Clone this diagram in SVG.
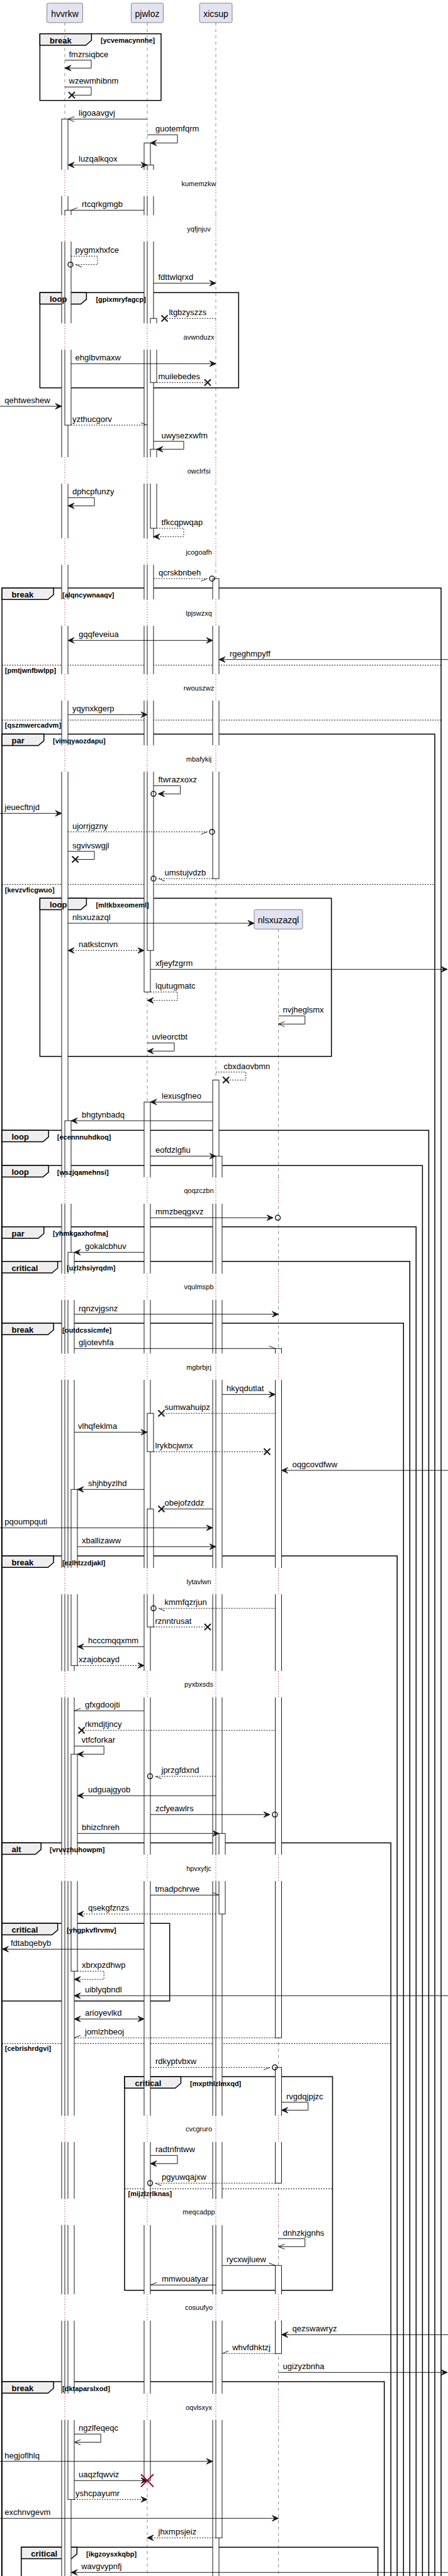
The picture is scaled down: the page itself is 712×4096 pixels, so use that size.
<svg xmlns="http://www.w3.org/2000/svg" xmlns:xlink="http://www.w3.org/1999/xlink" width="712" height="4096" viewBox="0 0 712 4096">
<defs>
<style>
text{font-family:"Liberation Sans",Arial,sans-serif;font-size:13px;fill:#000}
.pt{font-size:14px;text-anchor:middle}
.dt{font-size:11px;text-anchor:middle}
.gl{font-weight:bold;font-size:13px}
.gc{font-weight:bold;font-size:11px}
.box{fill:#E2E2F0;stroke:#181818;stroke-width:0.5}
.ll{stroke:#181818;stroke-width:0.5;stroke-dasharray:5,5;fill:none}
.act{fill:#fff;stroke:#181818;stroke-width:1}
.fr{fill:none;stroke:#000;stroke-width:1.5}
.tab{fill:#EEEEEE;stroke:#000;stroke-width:1.5}
.sep{stroke:#000;stroke-width:1;stroke-dasharray:2,2;fill:none}
.m{stroke:#181818;stroke-width:1;fill:none}
.md{stroke:#181818;stroke-width:1;fill:none;stroke-dasharray:2,2}
.oc{fill:none;stroke:#181818;stroke-width:1.5}
.wo{fill:#fff;stroke:none}
.dl{stroke:#A80036;stroke-width:1;stroke-dasharray:1,3;fill:none}
</style>
<marker id="af" markerUnits="userSpaceOnUse" markerWidth="14" markerHeight="14" refX="10" refY="5" orient="auto-start-reverse" overflow="visible"><path d="M0,0.5L10,5L0,9.5L4,5Z" fill="#181818" stroke="#181818" stroke-width="1"/></marker>
<marker id="ao" markerUnits="userSpaceOnUse" markerWidth="14" markerHeight="14" refX="10" refY="5" orient="auto" overflow="visible"><path d="M0,1L10,5L0,9" fill="none" stroke="#181818" stroke-width="1"/></marker>
<marker id="ahu" markerUnits="userSpaceOnUse" markerWidth="14" markerHeight="14" refX="10" refY="5" orient="auto" overflow="visible"><path d="M0,1L10,5" fill="none" stroke="#181818" stroke-width="1"/></marker>
<marker id="ahd" markerUnits="userSpaceOnUse" markerWidth="14" markerHeight="14" refX="10" refY="5" orient="auto" overflow="visible"><path d="M0,9L10,5" fill="none" stroke="#181818" stroke-width="1"/></marker>
<path id="xx" d="M-5,-5L5,5M-5,5L5,-5" stroke="#181818" stroke-width="2" fill="none"/>
</defs>
<rect x="0" y="0" width="712" height="4096" fill="#fff"/>

<g id="frames">
<g id="f1"><rect class="fr" x="63.4" y="53.7" width="192.6" height="106"/><path class="tab" d="M63.4,53.7H145.4V64.2L136.4,72H63.4Z"/></g>
<g id="f2"><rect class="fr" x="63.4" y="465.3" width="315.9" height="151.4"/><path class="tab" d="M63.4,465.3H137.4V475.8L128.4,483.6H63.4Z"/></g>
<g id="f3"><rect class="fr" x="3.2" y="935" width="697.8" height="3200"/><path class="tab" d="M3.2,935H85.2V945.5L76.2,953.3H3.2Z"/><path class="sep" d="M3.2,1057.7H701M3.2,1145H701"/></g>
<g id="f4"><rect class="fr" x="3.2" y="1167.3" width="687.8" height="3000"/><path class="tab" d="M3.2,1167.3H69.8V1177.8L60.8,1185.6H3.2Z"/><path class="sep" d="M3.2,1406.3H691"/></g>
<g id="f5"><rect class="fr" x="63.4" y="1428.3" width="463.3" height="251.4"/><path class="tab" d="M63.4,1428.3H137.4V1438.8L128.4,1446.6H63.4Z"/></g>
<g id="f6"><rect class="fr" x="3.2" y="1797.3" width="678.2" height="2400"/><path class="tab" d="M3.2,1797.3H77.2V1807.8L68.2,1815.6H3.2Z"/></g>
<g id="f7"><rect class="fr" x="3.2" y="1853.3" width="668.2" height="2400"/><path class="tab" d="M3.2,1853.3H77.2V1863.8L68.2,1871.6H3.2Z"/></g>
<g id="f8"><rect class="fr" x="3.2" y="1950.7" width="658.1" height="2300"/><path class="tab" d="M3.2,1950.7H69.8V1961.2L60.8,1969H3.2Z"/></g>
<g id="f9"><rect class="fr" x="3.2" y="2005.7" width="648.1" height="2200"/><path class="tab" d="M3.2,2005.7H91.7V2016.2L82.7,2024H3.2Z"/></g>
<g id="f10"><rect class="fr" x="3.2" y="2104" width="638.1" height="2100"/><path class="tab" d="M3.2,2104H85.2V2114.5L76.2,2122.3H3.2Z"/></g>
<g id="f11"><rect class="fr" x="3.2" y="2474" width="628" height="1700"/><path class="tab" d="M3.2,2474H85.2V2484.5L76.2,2492.3H3.2Z"/></g>
<g id="f12"><rect class="fr" x="3.2" y="2930.3" width="618" height="1300"/><path class="tab" d="M3.2,2930.3H65.2V2940.8L56.2,2948.6H3.2Z"/><path class="sep" d="M3.2,3249.3H621.2"/></g>
<g id="f13"><rect class="fr" x="3.2" y="3058.3" width="266.5" height="123.4"/><path class="tab" d="M3.2,3058.3H91.7V3068.8L82.7,3076.6H3.2Z"/></g>
<g id="f14"><rect class="fr" x="198" y="3302" width="330.5" height="339.7"/><path class="tab" d="M198,3302H287.5V3312.5L278.5,3320.3H198Z"/><path class="sep" d="M198,3480.3H528.5"/></g>
<g id="f15"><rect class="fr" x="3.2" y="3787" width="607.5" height="400"/><path class="tab" d="M3.2,3787H85.2V3797.5L76.2,3805.3H3.2Z"/></g>
<g id="f16"><rect class="fr" x="33.8" y="4050.3" width="566.8" height="200"/><path class="tab" d="M33.8,4050.3H122.3V4060.8L113.3,4068.6H33.8Z"/></g>
</g>

<g id="lifelines">
<path class="ll" d="M103,36V4096M234,36V4096M343,36V4096M442.5,1477.3V4096"/>
</g>

<g id="hvvrkw"><rect class="box" x="74.5" y="5" width="57" height="31" rx="2.5"/><text class="pt" x="103" y="27">hvvrkw</text></g>
<g id="pjwloz"><rect class="box" x="208.5" y="5" width="51" height="31" rx="2.5"/><text class="pt" x="234" y="27">pjwloz</text></g>
<g id="xicsup"><rect class="box" x="317" y="5" width="52" height="31" rx="2.5"/><text class="pt" x="343" y="27">xicsup</text></g>
<g id="nlsxuzazql"><rect class="box" x="404" y="1446.3" width="77" height="31" rx="2.5"/><text class="pt" x="442.5" y="1468.3">nlsxuzazql</text></g>

<g id="activations">
<rect class="act" x="98" y="189.3" width="10" height="3920"/>
<rect class="act" x="103" y="334.3" width="10" height="341.7"/>
<rect class="act" x="103" y="1782" width="10" height="2330"/>
<rect class="act" x="108" y="1991.3" width="10" height="1983"/>
<rect class="act" x="113" y="2368.3" width="10" height="280"/>
<rect class="act" x="113" y="2789.3" width="10" height="345"/>
<rect class="act" x="229" y="227.3" width="10" height="1350"/>
<rect class="act" x="234" y="262.3" width="10" height="1249"/>
<rect class="act" x="239" y="506.3" width="10" height="102"/>
<rect class="act" x="239" y="714.3" width="10" height="125.7"/>
<rect class="act" x="229" y="1752.3" width="10" height="2192"/>
<rect class="act" x="234" y="2247.3" width="10" height="61"/>
<rect class="act" x="234" y="2399.3" width="10" height="187.7"/>
<rect class="act" x="338" y="920" width="10" height="477"/>
<rect class="act" x="338" y="1717.3" width="10" height="2400"/>
<rect class="act" x="343" y="1838.3" width="10" height="2197"/>
<rect class="act" x="348" y="2915.3" width="10" height="128"/>
<rect class="act" x="437.5" y="2144.3" width="10" height="1096"/>
<rect class="act" x="437.5" y="3287.3" width="10" height="184"/>
<rect class="act" x="437.5" y="3602.3" width="10" height="140"/>
</g>

<g id="delays">
<path class="wo" d="M96.5,270h28v42h-28zM228,270h23v42h-23zM337,270h23v42h-23z
M96.5,342h28v42h-28zM228,342h23v42h-23zM337,342h23v42h-23z
M96.5,514h28v42h-28zM228,514h23v42h-23zM337,514h23v42h-23z
M96.5,727h28v42h-28zM228,727h23v42h-23zM337,727h23v42h-23z
M96.5,856h28v42h-28zM228,856h23v42h-23zM337,856h23v42h-23z
M96.5,953h28v42h-28zM228,953h23v42h-23zM337,953h23v42h-23z
M96.5,1072h28v42h-28zM228,1072h23v42h-23zM337,1072h23v42h-23z
M96.5,1185h28v42h-28zM228,1185h23v42h-23zM337,1185h23v42h-23z
M96.5,1872h28v42h-28zM228,1872h23v42h-23zM337,1872h23v42h-23zM436,1872h14v42h-14z
M96.5,2025h28v42h-28zM228,2025h23v42h-23zM337,2025h23v42h-23zM436,2025h14v42h-14z
M96.5,2152h28v42h-28zM228,2152h23v42h-23zM337,2152h23v42h-23zM436,2152h14v42h-14z
M96.5,2493h28v42h-28zM228,2493h23v42h-23zM337,2493h23v42h-23zM436,2493h14v42h-14z
M96.5,2657h28v42h-28zM228,2657h23v42h-23zM337,2657h23v42h-23zM436,2657h14v42h-14z
M96.5,2949h28v42h-28zM228,2949h23v42h-23zM337,2949h23v42h-23zM436,2949h14v42h-14z
M96.5,3364h28v42h-28zM228,3364h23v42h-23zM337,3364h23v42h-23zM436,3364h14v42h-14z
M96.5,3496h28v42h-28zM228,3496h23v42h-23zM337,3496h23v42h-23zM436,3496h14v42h-14z
M96.5,3648h28v42h-28zM228,3648h23v42h-23zM337,3648h23v42h-23zM436,3648h14v42h-14z
M96.5,3806h28v42h-28zM228,3806h23v42h-23zM337,3806h23v42h-23zM436,3806h14v42h-14z"/>
<path class="dl" d="M103,270v42M234,270v42M343,270v42
M103,342v42M234,342v42M343,342v42
M103,514v42M234,514v42M343,514v42
M103,727v42M234,727v42M343,727v42
M103,856v42M234,856v42M343,856v42
M103,953v42M234,953v42M343,953v42
M103,1072v42M234,1072v42M343,1072v42
M103,1185v42M234,1185v42M343,1185v42
M103,1872v42M234,1872v42M343,1872v42M442.5,1872v42
M103,2025v42M234,2025v42M343,2025v42M442.5,2025v42
M103,2152v42M234,2152v42M343,2152v42M442.5,2152v42
M103,2493v42M234,2493v42M343,2493v42M442.5,2493v42
M103,2657v42M234,2657v42M343,2657v42M442.5,2657v42
M103,2949v42M234,2949v42M343,2949v42M442.5,2949v42
M103,3364v42M234,3364v42M343,3364v42M442.5,3364v42
M103,3496v42M234,3496v42M343,3496v42M442.5,3496v42
M103,3648v42M234,3648v42M343,3648v42M442.5,3648v42
M103,3806v42M234,3806v42M343,3806v42M442.5,3806v42"/>
<text class="dt" x="316" y="296">kumemzkw</text>
<text class="dt" x="316" y="368">yqfjnjuv</text>
<text class="dt" x="316" y="540">avwnduzx</text>
<text class="dt" x="316" y="753">owclrfsi</text>
<text class="dt" x="316" y="882">jcogoafh</text>
<text class="dt" x="316" y="979">lpjswzxq</text>
<text class="dt" x="316" y="1098">rwouszwz</text>
<text class="dt" x="316" y="1211">mbafykij</text>
<text class="dt" x="316" y="1897">qoqzczbn</text>
<text class="dt" x="316" y="2050">vqulmspb</text>
<text class="dt" x="316" y="2178">mgbrbjrj</text>
<text class="dt" x="316" y="2519">lytavlwn</text>
<text class="dt" x="316" y="2682">pyxbxsds</text>
<text class="dt" x="316" y="2975">hpvxyfjc</text>
<text class="dt" x="316" y="3389">cvcgruro</text>
<text class="dt" x="316" y="3521">meqcadpp</text>
<text class="dt" x="316" y="3673">cosuufyo</text>
<text class="dt" x="316" y="3832">oqvlsxyx</text>
</g>

<g id="frame-labels">
<text class="gl" x="79" y="68.7">break</text><text class="gc" x="160" y="68.2">[ycvemacynnhe]</text>
<text class="gl" x="79" y="480.3">loop</text><text class="gc" x="152.4" y="479.8">[gpixmryfagcp]</text>
<text class="gl" x="18.5" y="950">break</text><text class="gc" x="99" y="949.5">[alqncywnaaqv]</text>
<text class="gc" x="7.8" y="1069.7">[pmtjwnfbwlpp]</text>
<text class="gc" x="7.8" y="1157.3">[qszmwercadvm]</text>
<text class="gl" x="18.5" y="1182.3">par</text><text class="gc" x="84" y="1181.8">[vimqyaozdapu]</text>
<text class="gc" x="7.8" y="1418.7">[kevzvficgwuo]</text>
<text class="gl" x="79" y="1443.3">loop</text><text class="gc" x="152.4" y="1442.8">[mltkbxeomeml]</text>
<text class="gl" x="18.5" y="1812.3">loop</text><text class="gc" x="90.8" y="1811.8">[ecennnuhdkoq]</text>
<text class="gl" x="18.5" y="1868.3">loop</text><text class="gc" x="90.8" y="1867.8">[wszjqamehnsi]</text>
<text class="gl" x="18.5" y="1965.7">par</text><text class="gc" x="84" y="1965.2">[yhmkgaxhofma]</text>
<text class="gl" x="18.5" y="2020.7">critical</text><text class="gc" x="105.9" y="2020.2">[uzlzhsiyrqdm]</text>
<text class="gl" x="18.5" y="2119">break</text><text class="gc" x="99" y="2118.5">[outdcssicmfe]</text>
<text class="gl" x="18.5" y="2489">break</text><text class="gc" x="99" y="2488.5">[ezlhtzzdjakl]</text>
<text class="gl" x="18.5" y="2945.3">alt</text><text class="gc" x="79" y="2944.8">[vrvvzhuhowpm]</text>
<text class="gc" x="7.8" y="3261.3">[cebrishrdgvi]</text>
<text class="gl" x="18.5" y="3073.3">critical</text><text class="gc" x="105.9" y="3072.8">[yhgpkvflrvmv]</text>
<text class="gl" x="214.5" y="3317">critical</text><text class="gc" x="302" y="3316.5">[mxpthlzlmxqd]</text>
<text class="gc" x="203.6" y="3492.3">[mijzlzrlknas]</text>
<text class="gl" x="18.5" y="3802">break</text><text class="gc" x="99" y="3801.5">[dktaparslxod]</text>
<text class="gl" x="49.3" y="4065.3">critical</text><text class="gc" x="137" y="4064.8">[ikgzoysxkqbp]</text>
</g>

<g id="connectors">
<path class="m" d="M103,95.7H145V108.3H103" marker-end="url(#af)"/>
<path class="m" d="M103,138.3H145V151.3H114"/><use xlink:href="#xx" x="114" y="151.3"/>
<path class="m" d="M234,189.3H108" marker-end="url(#ao)"/>
<path class="m" d="M234,214.3H282V227.3H239" marker-end="url(#af)"/>
<path class="m" d="M108,262.3H234" marker-start="url(#af)" marker-end="url(#af)"/>
<path class="m" d="M229,334.3H113" marker-end="url(#ahd)"/>
<path class="md" d="M113,407.3H155V420.7H120" marker-end="url(#ahu)"/><circle class="oc" cx="112" cy="420.7" r="4"/>
<path class="m" d="M244,450.3H343" marker-end="url(#af)"/>
<path class="md" d="M343,506.3H261.5"/><use xlink:href="#xx" x="261.5" y="506.3"/>
<path class="m" d="M113,578.3H343" marker-end="url(#af)"/>
<path class="md" d="M249,608.3H330"/><use xlink:href="#xx" x="330" y="608.3"/>
<path class="m" d="M0,646H98" marker-end="url(#af)"/>
<path class="md" d="M113,676H234" marker-end="url(#ahu)"/>
<path class="m" d="M244,701.7H292V714.3H249" marker-end="url(#af)"/>
<path class="m" d="M108,791.3H150V804.3H108" marker-end="url(#af)"/>
<path class="md" d="M249,840H292V853.3H244" marker-end="url(#af)"/>
<path class="md" d="M244,920H329.5" marker-end="url(#ahd)"/><circle class="oc" cx="337" cy="920" r="4"/>
<path class="m" d="M108,1018.3H338" marker-start="url(#af)" marker-end="url(#af)"/>
<path class="m" d="M712,1048.7H348" marker-end="url(#af)"/>
<path class="m" d="M108,1136.3H234" marker-end="url(#af)"/>
<path class="m" d="M244,1249.3H286.6V1262.3H251.5" marker-end="url(#af)"/><circle class="oc" cx="244" cy="1262.3" r="4"/>
<path class="m" d="M0,1293.3H98" marker-end="url(#af)"/>
<path class="md" d="M108,1322.7H329.5" marker-end="url(#ahd)"/><circle class="oc" cx="337" cy="1322.7" r="4"/>
<path class="m" d="M108,1353.7H150V1366.5H119.6"/><use xlink:href="#xx" x="119.6" y="1366.5"/>
<path class="md" d="M338,1397H252" marker-end="url(#ahu)"/><circle class="oc" cx="244" cy="1397" r="4"/>
<path class="m" d="M108,1468H404" marker-end="url(#af)"/>
<path class="md" d="M108,1511.3H229" marker-start="url(#af)" marker-end="url(#af)"/>
<path class="m" d="M239,1541.3H711" marker-end="url(#af)"/>
<path class="md" d="M239,1577.3H282V1590.7H234" marker-end="url(#af)"/>
<path class="m" d="M442.5,1615.3H484.7V1628.3H442.5" marker-end="url(#ao)"/>
<path class="m" d="M234,1658.3H277V1671.3H234" marker-end="url(#af)"/>
<path class="md" d="M343,1704.7H390.7V1717.3H359.2"/><use xlink:href="#xx" x="359.2" y="1717.3"/>
<path class="m" d="M338,1752.3H239" marker-end="url(#af)"/>
<path class="m" d="M338,1782H113" marker-end="url(#af)"/>
<path class="m" d="M239,1838.3H343" marker-end="url(#af)"/>
<path class="m" d="M239,1936.3H434" marker-end="url(#af)"/><circle class="oc" cx="441.5" cy="1936.3" r="4"/>
<path class="m" d="M229,1991.3H118" marker-end="url(#af)"/>
<path class="m" d="M118,2089.7H442.5" marker-end="url(#af)"/>
<path class="m" d="M118,2144.3H437.5" marker-end="url(#ahu)"/>
<path class="m" d="M353,2217.3H437.5" marker-end="url(#af)"/>
<path class="md" d="M437.5,2247.3H256.5"/><use xlink:href="#xx" x="256.5" y="2247.3"/>
<path class="m" d="M118,2277.3H234" marker-end="url(#af)"/>
<path class="md" d="M244,2308.3H424.5"/><use xlink:href="#xx" x="424.5" y="2308.3"/>
<path class="m" d="M712,2338H447.5" marker-end="url(#af)"/>
<path class="m" d="M229,2368.3H123" marker-end="url(#af)"/>
<path class="m" d="M338,2399.3H256.5"/><use xlink:href="#xx" x="256.5" y="2399.3"/>
<path class="m" d="M0,2429.3H338" marker-end="url(#af)"/>
<path class="m" d="M123,2459.3H343" marker-end="url(#af)"/>
<path class="md" d="M437.5,2557.3H252" marker-end="url(#ahu)"/><circle class="oc" cx="244" cy="2557.3" r="4"/>
<path class="md" d="M244,2587H330"/><use xlink:href="#xx" x="330" y="2587"/>
<path class="m" d="M229,2618.3H123" marker-end="url(#af)"/>
<path class="md" d="M123,2648.3H229" marker-end="url(#af)"/>
<path class="m" d="M229,2720.3H118" marker-end="url(#ahd)"/>
<path class="md" d="M437.5,2751.3H129.6"/><use xlink:href="#xx" x="129.6" y="2751.3"/>
<path class="m" d="M118,2776.3H165.2V2789.3H123" marker-end="url(#af)"/>
<path class="md" d="M343,2824.3H246.5" marker-end="url(#ahu)"/><circle class="oc" cx="238.5" cy="2824.3" r="4"/>
<path class="m" d="M343,2855.3H123" marker-end="url(#af)"/>
<path class="m" d="M239,2885.3H429" marker-end="url(#af)"/><circle class="oc" cx="436.8" cy="2885.3" r="4"/>
<path class="m" d="M123,2915.3H348" marker-end="url(#af)"/>
<path class="m" d="M239,3013.3H348" marker-end="url(#ahu)"/>
<path class="md" d="M343,3043.3H123" marker-end="url(#af)"/>
<path class="m" d="M229,3099.3H3.5" marker-end="url(#af)"/>
<path class="md" d="M123,3134.3H165.2V3147.3H118" marker-end="url(#af)"/>
<path class="m" d="M712,3173.3H118" marker-end="url(#af)"/>
<path class="m" d="M118,3210.3H229" marker-start="url(#af)" marker-end="url(#af)"/>
<path class="md" d="M437.5,3240.3H118" marker-end="url(#ahd)"/>
<path class="md" d="M239,3287.3H429" marker-end="url(#ahd)"/><circle class="oc" cx="436.8" cy="3287.3" r="4"/>
<path class="m" d="M447.5,3342.7H489.7V3355.3H447.5" marker-end="url(#af)"/>
<path class="m" d="M239,3427.3H282V3440.3H239" marker-end="url(#af)"/>
<path class="md" d="M437.5,3471.3H246.5" marker-end="url(#ahu)"/><circle class="oc" cx="238.5" cy="3471.3" r="4"/>
<path class="m" d="M442.5,3559.7H484.7V3572.3H442.5" marker-end="url(#ao)"/>
<path class="m" d="M353,3602.3H437.5" marker-end="url(#ahu)"/>
<path class="m" d="M343,3633.3H239" marker-end="url(#ahd)"/>
<path class="m" d="M712,3712.3H447.5" marker-end="url(#af)"/>
<path class="md" d="M437.5,3742.3H353" marker-end="url(#ahd)"/>
<path class="m" d="M442.5,3772.3H711" marker-end="url(#af)"/>
<path class="m" d="M118,3870.3H160.2V3883.3H118" marker-end="url(#ao)"/>
<path class="m" d="M0,3913.7H338" marker-end="url(#af)"/>
<path class="m" d="M118,3944.3H234" marker-end="url(#af)"/>
<path d="M224,3934.3L244,3954.3M224,3954.3L244,3934.3" stroke="#A80036" stroke-width="2" fill="none"/>
<path class="md" d="M118,3974.3H234" marker-end="url(#af)"/>
<path class="m" d="M0,4004.3H442.5" marker-end="url(#af)"/>
<path class="md" d="M343,4035.3H234" marker-end="url(#af)"/>
<path class="m" d="M712,4090.3H113" marker-end="url(#af)"/>
</g>

<g id="labels">
<text x="109.5" y="90.7">fmzrsiqbce</text>
<text x="109.5" y="133.3">wzewmhibnm</text>
<text x="125" y="184.3">ligoaavgvj</text>
<text x="247" y="209.3">guotemfqrm</text>
<text x="125" y="257.3">luzqalkqox</text>
<text x="130" y="329.3">rtcqrkgmgb</text>
<text x="119.6" y="402.3">pygmxhxfce</text>
<text x="251.5" y="445.3">fdttwlqrxd</text>
<text x="268.4" y="501.3">ltgbzyszzs</text>
<text x="119.6" y="573.3">ehglbvmaxw</text>
<text x="251.5" y="603.3">muilebedes</text>
<text x="7.3" y="641">qehtweshew</text>
<text x="115" y="671">yzthucgorv</text>
<text x="256.5" y="696.7">uwysezxwfm</text>
<text x="115" y="786.3">dphcpfunzy</text>
<text x="256.5" y="835">tfkcqpwqap</text>
<text x="252" y="915">qcrskbnbeh</text>
<text x="125" y="1013.3">gqqfeveiua</text>
<text x="365" y="1043.7">rgeghmpyff</text>
<text x="115" y="1131.3">yqynxkgerp</text>
<text x="251.5" y="1244.3">ftwrazxoxz</text>
<text x="7.3" y="1288.3">jeuecftnjd</text>
<text x="115" y="1317.7">ujorrjgzny</text>
<text x="115" y="1348.7">sgvivswgjl</text>
<text x="261.5" y="1392">umstujvdzb</text>
<text x="115" y="1463">nlsxuzazql</text>
<text x="125" y="1506.3">natkstcnvn</text>
<text x="247" y="1536.3">xfjeyfzgrm</text>
<text x="247" y="1572.3">lqutugmatc</text>
<text x="449.6" y="1610.3">nvjheglsmx</text>
<text x="241.4" y="1653.3">uvleorctbt</text>
<text x="355.6" y="1699.7">cbxdaovbmn</text>
<text x="257" y="1747.3">lexusgfneo</text>
<text x="130" y="1777">bhgtynbadq</text>
<text x="247" y="1833.3">eofdzlgfiu</text>
<text x="247" y="1931.3">mmzbeqgxvz</text>
<text x="135" y="1986.3">gokalcbhuv</text>
<text x="125" y="2084.7">rqnzvjgsnz</text>
<text x="125" y="2139.3">gljotevhfa</text>
<text x="360" y="2212.3">hkyqdutlat</text>
<text x="261.5" y="2242.3">sumwahuipz</text>
<text x="124" y="2272.3">vlhqfeklma</text>
<text x="246.5" y="2303.3">lrykbcjwnx</text>
<text x="464.6" y="2333">oqgcovdfww</text>
<text x="140" y="2363.3">shjhbyzlhd</text>
<text x="261.5" y="2394.3">obejofzddz</text>
<text x="7.3" y="2424.3">pqoumpquti</text>
<text x="130" y="2454.3">xballizaww</text>
<text x="261.5" y="2552.3">kmmfqzrjun</text>
<text x="246.5" y="2582">rznntrusat</text>
<text x="140" y="2613.3">hcccmqqxmm</text>
<text x="125" y="2643.3">xzajobcayd</text>
<text x="135" y="2715.3">gfxgdoojti</text>
<text x="135" y="2746.3">rkmdjtjncy</text>
<text x="129.6" y="2771.3">vtfcforkar</text>
<text x="256.5" y="2819.3">jprzgfdxnd</text>
<text x="140" y="2850.3">udguajgyob</text>
<text x="247" y="2880.3">zcfyeawlrs</text>
<text x="130" y="2910.3">bhizcfnreh</text>
<text x="246.5" y="3008.3">tmadpchrwe</text>
<text x="140" y="3038.3">qsekgfznzs</text>
<text x="16.9" y="3094.3">fdtabqebyb</text>
<text x="130" y="3129.3">xbrxpzdhwp</text>
<text x="135" y="3168.3">uiblyqbndl</text>
<text x="135" y="3205.3">arioyevlkd</text>
<text x="135" y="3235.3">jomlzhbeoj</text>
<text x="247" y="3282.3">rdkyptvbxw</text>
<text x="455" y="3337.7">rvgdqjpjzc</text>
<text x="247" y="3422.3">radtnfntww</text>
<text x="257" y="3466.3">pgyuwqajxw</text>
<text x="449.6" y="3554.7">dnhzkjgnhs</text>
<text x="360" y="3597.3">rycxwjluew</text>
<text x="257" y="3628.3">mmwouatyar</text>
<text x="464.6" y="3707.3">qezswawryz</text>
<text x="369.2" y="3737.3">whvfdhktzj</text>
<text x="449.6" y="3767.3">ugizyzbnha</text>
<text x="125" y="3865.3">ngzlfeqeqc</text>
<text x="7.3" y="3908.7">hegjoflhlq</text>
<text x="125" y="3939.3">uaqzfqwviz</text>
<text x="120" y="3969.3">yshcpayumr</text>
<text x="7.3" y="3999.3">exchnvgevm</text>
<text x="251.5" y="4030.3">jhxmpsjeiz</text>
<text x="129.2" y="4085.3">wavgvypnfj</text>
</g>
</svg>
